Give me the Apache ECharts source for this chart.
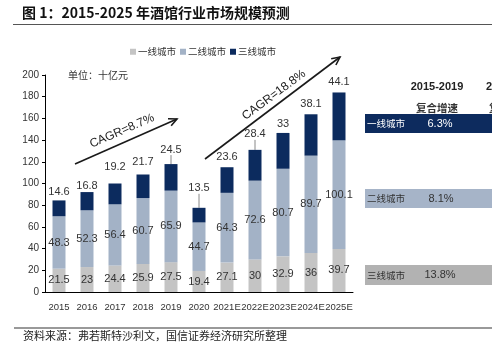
<!DOCTYPE html>
<html><head><meta charset="utf-8">
<script src="https://cdn.jsdelivr.net/npm/echarts@6/dist/echarts.min.js"></script>
<style>html,body{margin:0;padding:0;background:#fff}#c{width:492px;height:349px}</style>
</head><body><div id="c"></div>
<script>
// ---- data ----
const categories = ['2015','2016','2017','2018','2019','2020','2021E','2022E','2023E','2024E','2025E'];
const seriesNames = ['一线城市','二线城市','三线城市'];
const tier1 = [21.5,23,24.4,25.9,27.5,19.4,27.1,30,32.9,36,39.7];
const tier2 = [48.3,52.3,56.4,60.7,65.9,44.7,64.3,72.6,80.7,89.7,100.1];
const tier3 = [14.6,16.8,19.2,21.7,24.5,13.5,23.6,28.4,33,38.1,44.1];
const yAxisRange = [0, 200, 20];
const cagrTexts = ['CAGR=8.7%','CAGR=18.8%'];
const tableHeader = ['2015-2019','复合增速','2020-2025'];
const tableRowNames = ['一线城市','二线城市','三线城市'];
const tableCagr = ['6.3%','8.1%','13.8%'];

// ---- layout / style config ----
const colors = ['#c4c4c4','#a3b2c6','#0c2b5e'];
const numFont = "'Liberation Sans',Arial,sans-serif";
const cjkFont = "'Noto Sans CJK SC',sans-serif";
const topLabelGap = [3,1,11,7,3,3,5,3,3,5,5];
const leaderDy = {4:-6, 5:-11, 7:-7};

function arrow(x1,y1,x2,y2){
  const a = Math.atan2(y2-y1, x2-x1), L = 9, w = 0.45;
  return [
    {type:'line', shape:{x1,y1,x2,y2}, style:{stroke:'#1a1a1a', lineWidth:1.6}},
    {type:'polyline', shape:{points:[[x2-L*Math.cos(a-w), y2-L*Math.sin(a-w)],[x2,y2],[x2-L*Math.cos(a+w), y2-L*Math.sin(a+w)]]}, style:{stroke:'#1a1a1a', lineWidth:1.6, fill:null}}
  ];
}
function txt(x,y,text,font,fill,align,rot){
  return {type:'text', x, y, rotation: rot||0, style:{text, font, fill: fill||'#333', textAlign: align||'left', textVerticalAlign:'middle'}};
}

const chart = echarts.init(document.getElementById('c'), null, {renderer:'canvas'});

const valueLabel = {show:true, position:'inside', color:'#333', fontSize:11, fontFamily:numFont};

const option = {
  animation:false,
  grid:{left:45, top:75, width:308, height:217, containLabel:false},
  legend:{
    left:125, top:42, itemWidth:6, itemHeight:6, itemGap:4, icon:'rect',
    textStyle:{fontSize:9.5, fontFamily:cjkFont, color:'#333', padding:[0,0,0,-3]},
    data: seriesNames
  },
  xAxis:{
    type:'category', data:categories,
    axisLine:{lineStyle:{color:'#000', width:1}},
    axisTick:{inside:true, length:4, lineStyle:{color:'#000'}},
    axisLabel:{interval:0, margin:10, fontSize:9.5, fontFamily:numFont, color:'#333'}
  },
  yAxis:{
    type:'value', min:yAxisRange[0], max:yAxisRange[1], interval:yAxisRange[2],
    splitLine:{show:false},
    axisLine:{show:true, lineStyle:{color:'#000'}},
    axisTick:{show:true, length:3, lineStyle:{color:'#000'}},
    axisLabel:{margin:6, fontSize:10, fontFamily:numFont, color:'#333'}
  },
  series:[
    {name:seriesNames[0], type:'bar', stack:'t', barWidth:13, data:tier1, itemStyle:{color:colors[0]}, label:valueLabel},
    {name:seriesNames[1], type:'bar', stack:'t', barWidth:13, data:tier2, itemStyle:{color:colors[1]}, label:valueLabel},
    {name:seriesNames[2], type:'bar', stack:'t', barWidth:13,
      data: tier3.map((v,i)=>({value:v, label:{distance: topLabelGap[i]}, labelLine:{show: leaderDy[i]!==undefined}})),
      itemStyle:{color:colors[2]},
      label:{show:true, position:'top', color:'#333', fontSize:11, fontFamily:numFont},
      labelLine:{show:false, lineStyle:{color:'#888', width:1}},
      labelLayout:function(p){ const d = leaderDy[p.dataIndex]; return d!==undefined ? {dy:d} : {}; }
    }
  ],
  graphic:[
    txt(22,13,'图 1：2015-2025 年酒馆行业市场规模预测',"bold 14px "+cjkFont,'#111'),
    {type:'line', shape:{x1:13,y1:24.5,x2:492,y2:24.5}, style:{stroke:'#555', lineWidth:1.2}},
    {type:'line', shape:{x1:14,y1:328,x2:492,y2:328}, style:{stroke:'#999', lineWidth:2}},
    txt(23,336,'资料来源：弗若斯特沙利文，国信证券经济研究所整理',"11px "+cjkFont,'#222'),
    txt(68,75,'单位：十亿元',"10px "+cjkFont,'#333'),
    ...arrow(75,164,177,119),
    ...arrow(205,159,340,57),
    txt(122,131,cagrTexts[0],"12px "+numFont,'#222','center',0.41),
    txt(274,95,cagrTexts[1],"12px "+numFont,'#222','center',0.64),
    // table
    txt(437,87,tableHeader[0],"bold 11px "+numFont,'#222','center'),
    txt(437,108,tableHeader[1],"bold 10.5px "+cjkFont,'#333','center'),
    txt(486,87,tableHeader[2],"bold 11px "+numFont,'#222','left'),
    txt(489,108,tableHeader[1],"bold 10.5px "+cjkFont,'#333','left'),
    {type:'rect', shape:{x:365,y:114,width:127,height:19}, style:{fill:'#0d2b5e'}},
    {type:'rect', shape:{x:365,y:189,width:127,height:19}, style:{fill:'#a6b4c8'}},
    {type:'rect', shape:{x:365,y:265,width:127,height:20}, style:{fill:'#b2b2b2'}},
    txt(367,123.5,tableRowNames[0],"9.5px "+cjkFont,'#fff'),
    txt(440,123.5,tableCagr[0],"11px "+numFont,'#fff','center'),
    txt(367,198.5,tableRowNames[1],"9.5px "+cjkFont,'#333'),
    txt(441,198.5,tableCagr[1],"11px "+numFont,'#333','center'),
    txt(367,275,tableRowNames[2],"9.5px "+cjkFont,'#333'),
    txt(440,275,tableCagr[2],"11px "+numFont,'#333','center')
  ]
};
chart.setOption(option);
</script></body></html>
